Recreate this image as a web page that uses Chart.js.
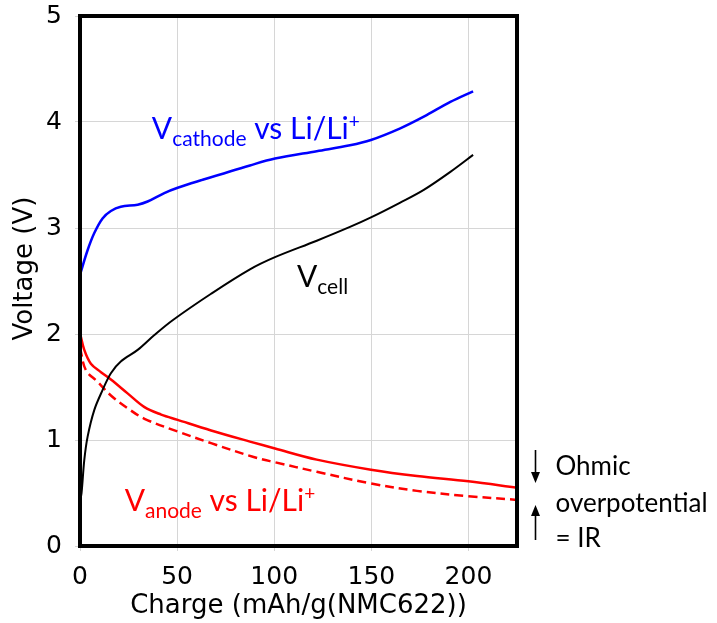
<!DOCTYPE html>
<html>
<head>
<meta charset="utf-8">
<script src="https://cdn.jsdelivr.net/npm/chart.js@4/dist/chart.umd.min.js"></script>
<style>
  html, body { margin: 0; padding: 0; background: #fff; }
  #wrap { width: 717px; height: 623px; }
</style>
</head>
<body>
<div id="wrap"><canvas id="chart" width="717" height="623"></canvas></div>
<script>
/* =========================
   DATA
========================= */
const xTicks = [0, 50, 100, 150, 200];
const yTicks = [0, 1, 2, 3, 4, 5];

const cathodeCharge = [0, 3.9, 7.3, 11.6, 15.9, 21, 29.7, 34.8, 43.4, 50.3, 62.3, 87.5, 100.4, 121.9, 139, 149.8, 164.9, 177, 190.7, 202.4];
const cathodeVolt   = [2.56, 2.79, 2.95, 3.09, 3.16, 3.20, 3.22, 3.25, 3.33, 3.38, 3.45, 3.59, 3.655, 3.725, 3.78, 3.83, 3.94, 4.05, 4.19, 4.29];

const cellCharge = [0, 0.8, 2.2, 3.9, 7.3, 11.6, 15.9, 21, 29.7, 38.3, 47.7, 67.5, 87.5, 100.4, 121.9, 139, 149.8, 164.9, 177, 190.7, 202.4];
const cellVolt   = [0.42, 0.50, 0.81, 1.03, 1.28, 1.47, 1.63, 1.74, 1.85, 1.99, 2.13, 2.38, 2.61, 2.725, 2.88, 3.01, 3.10, 3.24, 3.36, 3.53, 3.69];

const anodeCharge = [0, 2.2, 5.6, 10.8, 15.9, 24.5, 33.2, 41.8, 50.3, 67.5, 87.5, 100.4, 121.9, 149.8, 173.5, 200, 225];
const anodeVolt   = [2.01, 1.85, 1.72, 1.64, 1.57, 1.44, 1.31, 1.24, 1.19, 1.09, 0.985, 0.92, 0.815, 0.72, 0.66, 0.61, 0.55];

const anodeOcvCharge = [0, 3, 9, 15.9, 24.5, 33.2, 50.3, 67.5, 89.4, 100.4, 121.9, 149.8, 173.5, 200, 225];
const anodeOcvVolt   = [1.87, 1.66, 1.55, 1.42, 1.30, 1.20, 1.08, 0.97, 0.84, 0.79, 0.70, 0.59, 0.52, 0.47, 0.435];

const pts = (xs, ys) => xs.map((x, i) => ({ x, y: ys[i] }));

/* =========================
   ANNOTATIONS
========================= */
const LABEL_FONT = "Lato, 'Noto Sans', sans-serif";

function drawRich(ctx, parts, x, y, color) {
  ctx.save();
  ctx.fillStyle = color;
  ctx.textBaseline = "alphabetic";
  ctx.textAlign = "left";
  let cx = x;
  for (const p of parts) {
    ctx.font = p.size + "px " + LABEL_FONT;
    ctx.fillText(p.t, cx, y + (p.dy || 0));
    cx += ctx.measureText(p.t).width;
  }
  ctx.restore();
}

function arrow(ctx, x, y0, y1) {
  // shaft from y0, head tip at y1
  const dir = y1 > y0 ? 1 : -1;
  ctx.save();
  ctx.strokeStyle = "#000";
  ctx.fillStyle = "#000";
  ctx.lineWidth = 1.6;
  ctx.beginPath();
  ctx.moveTo(x, y0);
  ctx.lineTo(x, y1 - dir * 8);
  ctx.stroke();
  ctx.beginPath();
  ctx.moveTo(x, y1);
  ctx.lineTo(x - 4.5, y1 - dir * 11);
  ctx.lineTo(x + 4.5, y1 - dir * 11);
  ctx.closePath();
  ctx.fill();
  ctx.restore();
}

const annotations = {
  id: "annotations",
  afterDraw(chart) {
    const { ctx, chartArea: a, scales: { x, y } } = chart;

    // frame
    ctx.save();
    ctx.strokeStyle = "#000";
    ctx.lineWidth = 4;
    ctx.strokeRect(a.left, a.top, a.right - a.left, a.bottom - a.top);
    ctx.restore();

    drawRich(ctx, [
      { t: "V", size: 30 },
      { t: "cathode", size: 21, dy: 7 },
      { t: " vs Li/Li", size: 30 },
      { t: "+", size: 19, dy: -11 }
    ], x.getPixelForValue(37), y.getPixelForValue(3.84), "#0000ff");

    drawRich(ctx, [
      { t: "V", size: 30 },
      { t: "cell", size: 21, dy: 7 }
    ], x.getPixelForValue(111.7), y.getPixelForValue(2.44), "#000");

    drawRich(ctx, [
      { t: "V", size: 30 },
      { t: "anode", size: 21, dy: 7 },
      { t: " vs Li/Li", size: 30 },
      { t: "+", size: 19, dy: -11 }
    ], x.getPixelForValue(23), y.getPixelForValue(0.33), "#ff0000");

    // ohmic overpotential note, right of the frame
    const ax = a.right + 18.5;
    arrow(ctx, ax, 450, 483);
    arrow(ctx, ax, 540, 505);
    ctx.save();
    ctx.fillStyle = "#000";
    ctx.font = "26px " + LABEL_FONT;
    ctx.textBaseline = "alphabetic";
    ctx.fillText("Ohmic", ax + 20, 475);
    ctx.fillText("overpotential", ax + 20, 512);
    ctx.fillText("= IR", ax + 20, 547);
    ctx.restore();
  }
};

/* =========================
   CHART
========================= */
const TICK_FONT = { family: "'DejaVu Sans', sans-serif", size: 25 };
const TITLE_FONT = { family: "'DejaVu Sans', sans-serif", size: 26 };
const GRID = { color: "#d6d6d6", lineWidth: 1, tickLength: 5 };

new Chart(document.getElementById("chart"), {
  type: "line",
  data: {
    datasets: [
      { data: pts(cellCharge, cellVolt), borderColor: "#000", borderWidth: 2 },
      { data: pts(anodeOcvCharge, anodeOcvVolt), borderColor: "#ff0000", borderWidth: 2.5, borderDash: [9, 5] },
      { data: pts(anodeCharge, anodeVolt), borderColor: "#ff0000", borderWidth: 2.5 },
      { data: pts(cathodeCharge, cathodeVolt), borderColor: "#0000ff", borderWidth: 2.5 }
    ]
  },
  options: {
    responsive: false,
    devicePixelRatio: 1,
    animation: false,
    events: [],
    layout: { padding: { top: 16, right: 200, left: 0, bottom: 0 } },
    elements: {
      point: { radius: 0 },
      line: { tension: 0.35, fill: false }
    },
    plugins: { legend: { display: false }, tooltip: { enabled: false } },
    scales: {
      x: {
        type: "linear",
        min: 0,
        max: 225,
        afterBuildTicks: s => { s.ticks = xTicks.map(v => ({ value: v })); },
        afterFit: s => { s.height = 77; s.paddingLeft = 0; s.paddingRight = 0; },
        ticks: { font: TICK_FONT, color: "#000", padding: 11, maxRotation: 0 },
        grid: GRID,
        border: { display: false },
        title: { display: true, text: "Charge (mAh/g(NMC622))", font: TITLE_FONT, color: "#000", padding: { top: 0, bottom: 1 } }
      },
      y: {
        type: "linear",
        min: 0,
        max: 5,
        afterBuildTicks: s => { s.ticks = yTicks.map(v => ({ value: v })); },
        afterFit: s => { s.width = 80; s.paddingTop = 0; s.paddingBottom = 0; },
        ticks: { font: TICK_FONT, color: "#000", padding: 13 },
        grid: GRID,
        border: { display: false },
        title: { display: true, text: "   Voltage (V)", font: TITLE_FONT, color: "#000", padding: { top: 10, bottom: 0 } }
      }
    }
  },
  plugins: [annotations]
});
</script>
</body>
</html>
